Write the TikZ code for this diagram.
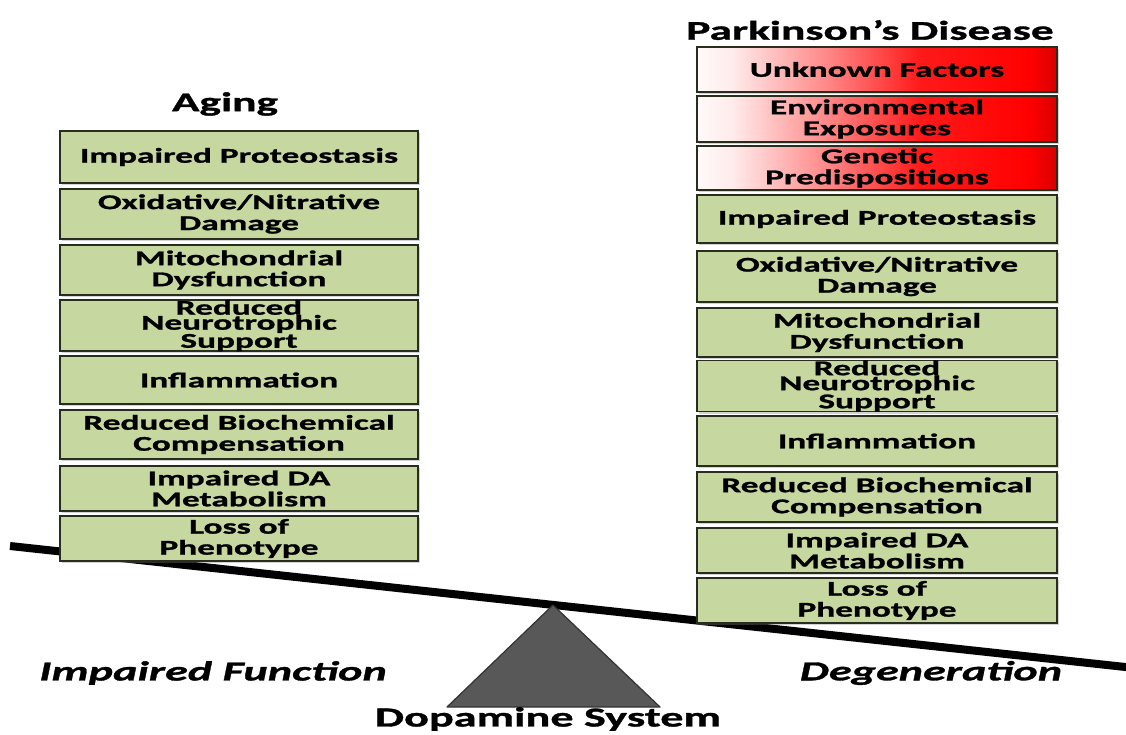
\documentclass[tikz,border=0pt]{standalone}
\usepackage{fontspec}
\setmainfont{Carlito}[FakeStretch=1.68, FakeBold=1.2]
\usetikzlibrary{shadows}
\definecolor{boxgreen}{RGB}{199,215,160}
\definecolor{boxedge}{RGB}{40,45,30}
\definecolor{fulcrum}{RGB}{88,88,88}
\pgfdeclarehorizontalshading{redfade}{100bp}{color(0bp)=(red!2!white); color(25bp)=(red!2!white); color(30bp)=(red!8!white); color(44bp)=(red!50!white); color(56bp)=(red!90!white); color(71bp)=(red); color(75bp)=(red!85!black); color(100bp)=(red!85!black)}
\begin{document}
\begin{tikzpicture}[x=1pt,y=-1pt,
  box/.style={draw=boxedge, line width=1.8pt, inner sep=0pt, align=center,
    font=\bfseries\fontsize{21}{21}\selectfont,
    drop shadow={shadow xshift=2pt, shadow yshift=-2pt, opacity=0.35}},
  lbox/.style={box, fill=boxgreen, minimum width=358pt},
  pbox/.style={box, fill=boxgreen, minimum width=360pt},
  rbox/.style={box, shading=redfade, minimum width=360pt},
  tight/.style={font=\bfseries\fontsize{21}{15}\selectfont},
  title/.style={font=\bfseries\fontsize{27}{27}\selectfont},
  side/.style={font=\bfseries\itshape\fontsize{27.5}{27.5}\selectfont}]
\useasboundingbox (0,0) rectangle (1126,735);
% beam and fulcrum
\draw[line width=8pt] (10,546) -- (1130,667.5);
\draw[fill=fulcrum, draw=black!80, line width=1.2pt, line join=round] (553,605) -- (447,707) -- (660,707) -- cycle;
% titles
\node[title] (aging) at (225,104) {Aging};
\node[title] (pd) at (870,30) {Parkinson’s Disease};
\node[side] (impf) at (213,673) {Impaired Function};
\node[side] (degen) at (931,673) {Degeneration};
\node[font=\bfseries\fontsize{27.5}{27.5}\selectfont] (dopa) at (548,719) {Dopamine System};
% aging column
\node[lbox, minimum height=52pt] (a1) at (239,157) {Impaired Proteostasis};
\node[lbox, minimum height=50pt] (a2) at (239,214) {Oxidative/Nitrative\\Damage};
\node[lbox, minimum height=50pt] (a3) at (239,270) {Mitochondrial\\Dysfunction};
\node[lbox, minimum height=49pt, tight] (a4) at (239,325.5) {Reduced\\Neurotrophic\\Support};
\node[lbox, minimum height=48pt] (a5) at (239,380) {Inflammation};
\node[lbox, minimum height=49pt] (a6) at (239,434.5) {Reduced Biochemical\\Compensation};
\node[lbox, minimum height=45pt] (a7) at (239,488.5) {Impaired DA\\Metabolism};
\node[lbox, minimum height=45pt] (a8) at (239,538.5) {Loss of\\Phenotype};
% parkinson column
\node[rbox, minimum height=45pt] (p1) at (877,69.5) {Unknown Factors};
\node[rbox, minimum height=46pt] (p2) at (877,119) {Environmental\\Exposures};
\node[rbox, minimum height=44pt] (p3) at (877,168) {Genetic\\Predispositions};
\node[pbox, minimum height=48pt] (p4) at (877,219) {Impaired Proteostasis};
\node[pbox, minimum height=51pt] (p5) at (877,276.5) {Oxidative/Nitrative\\Damage};
\node[pbox, minimum height=49pt] (p6) at (877,332.5) {Mitochondrial\\Dysfunction};
\node[pbox, minimum height=48pt, tight] (p7) at (877,386) {Reduced\\Neurotrophic\\Support};
\node[pbox, minimum height=50pt] (p8) at (877,441) {Inflammation};
\node[pbox, minimum height=50pt] (p9) at (877,497) {Reduced Biochemical\\Compensation};
\node[pbox, minimum height=45pt] (p10) at (877,550.5) {Impaired DA\\Metabolism};
\node[pbox, minimum height=45pt] (p11) at (877,600.5) {Loss of\\Phenotype};
\end{tikzpicture}
\end{document}
